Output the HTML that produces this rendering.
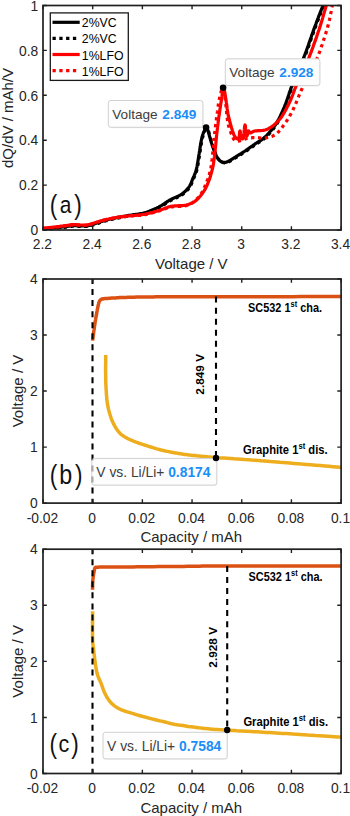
<!DOCTYPE html>
<html><head><meta charset="utf-8"><style>
html,body{margin:0;padding:0;background:#fff;}
svg{display:block;}
text{font-family:"Liberation Sans",sans-serif;}
.tk{font-size:13.8px;fill:#262626;}
.lb{font-size:15px;fill:#262626;}
.bd{font-size:12px;font-weight:bold;fill:#000;}
.cal{fill:#111;}
</style></head><body>
<svg width="350" height="816" viewBox="0 0 350 816">
<rect width="350" height="816" fill="#fff"/>
<clipPath id="ca"><rect x="43.0" y="5.5" width="298.1" height="226.5"/></clipPath>
<g clip-path="url(#ca)" fill="none" stroke-linejoin="round" stroke-linecap="butt">
<path d="M42.5,229.0 L43.1,228.9 L43.9,228.9 L44.9,228.8 L45.9,228.7 L47.1,228.6 L48.3,228.5 L49.6,228.4 L50.8,228.2 L52.1,228.1 L53.3,228.0 L54.4,227.9 L55.4,227.8 L56.4,227.7 L57.3,227.6 L58.2,227.5 L59.1,227.4 L60.0,227.3 L60.9,227.2 L61.7,227.1 L62.6,227.0 L63.4,226.9 L64.2,226.8 L64.9,226.7 L65.7,226.6 L66.4,226.5 L67.1,226.4 L67.8,226.3 L68.5,226.2 L69.1,226.1 L69.7,226.0 L70.3,225.9 L70.9,225.8 L71.5,225.7 L72.1,225.7 L72.8,225.6 L73.4,225.6 L74.0,225.6 L74.7,225.6 L75.4,225.6 L76.0,225.7 L76.7,225.7 L77.3,225.8 L78.0,225.8 L78.6,225.9 L79.3,225.9 L79.9,226.0 L80.5,226.0 L81.1,226.0 L81.7,226.0 L82.3,226.0 L82.8,226.0 L83.4,226.0 L83.9,226.0 L84.4,226.0 L85.0,226.0 L85.5,226.0 L86.0,226.0 L86.5,225.9 L87.1,225.9 L87.6,225.8 L88.1,225.7 L88.6,225.6 L89.1,225.5 L89.6,225.4 L90.1,225.2 L90.6,225.1 L91.1,224.9 L91.6,224.8 L92.1,224.6 L92.7,224.4 L93.3,224.2 L94.0,224.0 L94.7,223.8 L95.5,223.5 L96.2,223.3 L97.1,223.0 L97.9,222.7 L98.8,222.4 L99.6,222.1 L100.5,221.8 L101.5,221.5 L102.4,221.2 L103.3,220.9 L104.3,220.6 L105.3,220.3 L106.3,220.1 L107.3,219.8 L108.4,219.5 L109.5,219.3 L110.5,219.0 L111.6,218.8 L112.7,218.5 L113.8,218.3 L114.9,218.1 L116.0,217.8 L117.1,217.6 L118.2,217.4 L119.2,217.2 L120.3,217.0 L121.3,216.8 L122.4,216.6 L123.5,216.4 L124.5,216.2 L125.6,216.0 L126.7,215.8 L127.8,215.6 L128.9,215.4 L130.0,215.2 L131.1,215.0 L132.3,214.9 L133.5,214.7 L134.7,214.6 L135.9,214.4 L137.1,214.3 L138.3,214.1 L139.5,213.9 L140.7,213.7 L141.9,213.5 L143.1,213.2 L144.3,212.9 L145.5,212.5 L146.7,212.2 L147.9,211.7 L149.2,211.3 L150.4,210.8 L151.6,210.3 L152.8,209.8 L154.0,209.3 L155.2,208.7 L156.4,208.2 L157.5,207.6 L158.6,207.1 L159.7,206.5 L160.7,206.0 L161.7,205.4 L162.6,204.8 L163.6,204.2 L164.5,203.5 L165.4,202.9 L166.3,202.3 L167.2,201.7 L168.1,201.1 L169.1,200.5 L170.0,200.0 L171.0,199.5 L171.9,199.0 L172.9,198.5 L173.9,198.1 L174.9,197.6 L175.9,197.2 L176.9,196.7 L177.9,196.3 L178.8,195.8 L179.7,195.3 L180.6,194.8 L181.4,194.3 L182.2,193.8 L182.9,193.2 L183.6,192.6 L184.3,192.1 L185.0,191.5 L185.6,190.9 L186.2,190.3 L186.8,189.7 L187.3,189.1 L187.9,188.4 L188.4,187.8 L188.9,187.1 L189.4,186.4 L189.8,185.7 L190.2,184.9 L190.6,184.2 L190.9,183.4 L191.3,182.6 L191.6,181.8 L191.9,181.0 L192.2,180.2 L192.5,179.5 L192.8,178.7 L193.1,178.0 L193.4,177.3 L193.7,176.7 L194.0,176.1 L194.2,175.5 L194.5,174.9 L194.8,174.3 L195.0,173.7 L195.3,173.0 L195.5,172.4 L195.7,171.7 L196.0,170.9 L196.2,170.0 L196.4,169.1 L196.6,168.1 L196.9,167.1 L197.1,166.0 L197.3,164.9 L197.5,163.8 L197.7,162.6 L197.9,161.4 L198.1,160.1 L198.3,158.9 L198.5,157.6 L198.7,156.3 L198.9,154.9 L199.2,153.5 L199.4,151.9 L199.7,150.3 L199.9,148.7 L200.2,147.1 L200.4,145.5 L200.7,143.9 L200.9,142.4 L201.2,141.0 L201.5,139.7 L201.7,138.5 L201.9,137.5 L202.2,136.5 L202.5,135.6 L202.7,134.8 L203.0,134.0 L203.2,133.3 L203.5,132.7 L203.7,132.1 L204.0,131.6 L204.2,131.1 L204.4,130.6 L204.6,130.2 L204.8,129.8 L205.0,129.5 L205.1,129.2 L205.3,129.0 L205.4,128.8 L205.6,128.7 L205.7,128.6 L205.9,128.5 L206.0,128.5 L206.1,128.5 L206.3,128.5 L206.4,128.5 L206.5,128.5 L206.7,128.6 L206.8,128.7 L206.9,128.8 L207.1,128.9 L207.2,129.1 L207.3,129.3 L207.5,129.5 L207.6,129.7 L207.7,130.0 L207.9,130.3 L208.0,130.6 L208.1,130.9 L208.3,131.3 L208.4,131.7 L208.5,132.1 L208.6,132.6 L208.7,133.1 L208.8,133.6 L209.0,134.1 L209.1,134.7 L209.3,135.2 L209.4,135.9 L209.6,136.5 L209.8,137.2 L210.0,137.9 L210.2,138.7 L210.5,139.5 L210.7,140.3 L211.0,141.2 L211.2,142.1 L211.5,143.0 L211.8,143.8 L212.0,144.7 L212.3,145.6 L212.6,146.4 L212.9,147.2 L213.2,148.1 L213.5,149.0 L213.8,149.9 L214.2,150.7 L214.5,151.6 L214.8,152.5 L215.2,153.3 L215.5,154.1 L215.8,154.9 L216.2,155.6 L216.5,156.2 L216.8,156.8 L217.1,157.3 L217.4,157.8 L217.7,158.3 L218.0,158.7 L218.4,159.1 L218.7,159.5 L219.0,159.8 L219.3,160.2 L219.6,160.5 L220.0,160.7 L220.3,161.0 L220.7,161.2 L221.0,161.5 L221.4,161.7 L221.8,161.8 L222.2,162.0 L222.6,162.1 L223.0,162.2 L223.4,162.3 L223.8,162.4 L224.2,162.4 L224.6,162.4 L225.0,162.4 L225.4,162.4 L225.8,162.3 L226.2,162.2 L226.6,162.1 L227.0,161.9 L227.4,161.8 L227.8,161.6 L228.2,161.4 L228.6,161.1 L229.0,160.9 L229.5,160.7 L230.0,160.4 L230.5,160.1 L231.0,159.8 L231.6,159.5 L232.1,159.1 L232.7,158.8 L233.3,158.4 L233.9,158.0 L234.5,157.6 L235.1,157.2 L235.8,156.8 L236.4,156.4 L237.0,156.0 L237.6,155.6 L238.3,155.2 L238.9,154.8 L239.5,154.5 L240.2,154.1 L240.8,153.7 L241.5,153.3 L242.1,152.8 L242.8,152.4 L243.5,152.0 L244.3,151.5 L245.0,151.0 L245.8,150.5 L246.6,149.9 L247.4,149.4 L248.2,148.8 L249.0,148.2 L249.9,147.6 L250.7,147.0 L251.6,146.4 L252.5,145.8 L253.3,145.2 L254.2,144.6 L255.0,144.0 L255.8,143.4 L256.7,142.9 L257.5,142.4 L258.3,141.9 L259.1,141.4 L260.0,140.9 L260.8,140.3 L261.6,139.8 L262.5,139.2 L263.3,138.5 L264.1,137.8 L265.0,137.0 L265.9,136.2 L266.8,135.3 L267.7,134.3 L268.6,133.4 L269.5,132.3 L270.4,131.3 L271.4,130.2 L272.3,129.1 L273.2,127.9 L274.0,126.7 L274.9,125.5 L275.7,124.3 L276.5,123.0 L277.3,121.7 L278.0,120.4 L278.8,119.0 L279.5,117.6 L280.2,116.2 L280.9,114.7 L281.6,113.2 L282.3,111.7 L283.0,110.2 L283.6,108.6 L284.3,107.1 L284.9,105.5 L285.6,103.9 L286.2,102.2 L286.8,100.5 L287.4,98.8 L288.0,97.0 L288.6,95.3 L289.1,93.6 L289.7,91.9 L290.3,90.2 L290.8,88.6 L291.4,87.1 L292.0,85.6 L292.5,84.2 L293.1,82.8 L293.6,81.4 L294.2,80.1 L294.7,78.8 L295.3,77.5 L295.8,76.2 L296.4,74.9 L296.9,73.6 L297.5,72.3 L298.0,71.0 L298.5,69.7 L299.0,68.5 L299.6,67.4 L300.0,66.3 L300.5,65.2 L301.0,64.1 L301.6,62.9 L302.1,61.7 L302.6,60.4 L303.2,59.0 L303.8,57.4 L304.5,55.7 L305.2,53.8 L306.0,51.7 L306.8,49.5 L307.6,47.2 L308.5,44.7 L309.3,42.2 L310.2,39.7 L311.1,37.2 L311.9,34.8 L312.8,32.4 L313.6,30.1 L314.4,27.9 L315.2,25.8 L316.0,23.7 L316.7,21.6 L317.5,19.6 L318.3,17.6 L319.0,15.6 L319.8,13.7 L320.5,11.9 L321.2,10.2 L321.8,8.5 L322.4,7.0 L322.9,5.6 L323.4,4.3 L323.8,3.2 L324.2,2.1 L324.6,1.1 L324.9,0.2 L325.2,-0.6 L325.5,-1.3 L325.7,-2.0 L326.0,-2.6 L326.2,-3.1 L326.3,-3.6 L326.5,-4.0" stroke="#000" stroke-width="3.2"/>
<path d="M43.1,229.6 L43.7,229.5 L44.5,229.5 L45.5,229.4 L46.5,229.3 L47.7,229.2 L48.9,229.1 L50.2,229.0 L51.4,228.8 L52.7,228.7 L53.9,228.6 L55.0,228.5 L56.0,228.4 L57.0,228.3 L57.9,228.2 L58.8,228.1 L59.7,228.0 L60.6,227.9 L61.5,227.8 L62.3,227.7 L63.2,227.6 L64.0,227.5 L64.8,227.4 L65.5,227.3 L66.3,227.2 L67.0,227.1 L67.7,227.0 L68.4,226.9 L69.1,226.8 L69.7,226.7 L70.3,226.6 L70.9,226.5 L71.5,226.4 L72.1,226.3 L72.7,226.3 L73.4,226.2 L74.0,226.2 L74.6,226.2 L75.3,226.2 L76.0,226.2 L76.6,226.3 L77.3,226.3 L77.9,226.3 L78.6,226.4 L79.2,226.5 L79.9,226.5 L80.5,226.6 L81.1,226.6 L81.7,226.6 L82.3,226.6 L82.9,226.6 L83.4,226.6 L84.0,226.6 L84.5,226.6 L85.0,226.6 L85.6,226.6 L86.1,226.6 L86.6,226.6 L87.1,226.5 L87.7,226.5 L88.2,226.4 L88.7,226.3 L89.2,226.2 L89.7,226.1 L90.2,226.0 L90.7,225.8 L91.2,225.7 L91.7,225.5 L92.2,225.4 L92.7,225.2 L93.3,225.0 L93.9,224.8 L94.6,224.6 L95.3,224.4 L96.1,224.1 L96.8,223.9 L97.7,223.6 L98.5,223.3 L99.3,223.0 L100.2,222.7 L101.1,222.4 L102.1,222.1 L103.0,221.8 L103.9,221.5 L104.9,221.2 L105.9,220.9 L106.9,220.7 L107.9,220.4 L109.0,220.1 L110.1,219.9 L111.1,219.6 L112.2,219.4 L113.3,219.1 L114.4,218.9 L115.5,218.7 L116.6,218.4 L117.7,218.2 L118.8,218.0 L119.8,217.8 L120.9,217.6 L121.9,217.4 L123.0,217.2 L124.1,217.0 L125.1,216.8 L126.2,216.6 L127.3,216.4 L128.4,216.2 L129.5,216.0 L130.6,215.8 L131.7,215.6 L132.9,215.5 L134.1,215.3 L135.3,215.2 L136.5,215.0 L137.7,214.9 L138.9,214.7 L140.1,214.5 L141.3,214.3 L142.5,214.1 L143.7,213.8 L144.9,213.5 L146.1,213.1 L147.3,212.8 L148.5,212.3 L149.8,211.9 L151.0,211.4 L152.2,210.9 L153.4,210.4 L154.6,209.9 L155.8,209.3 L157.0,208.8 L158.1,208.2 L159.2,207.7 L160.3,207.1 L161.3,206.6 L162.3,206.0 L163.2,205.4 L164.2,204.8 L165.1,204.1 L166.0,203.5 L166.9,202.9 L167.8,202.3 L168.7,201.7 L169.7,201.1 L170.6,200.6 L171.6,200.1 L172.5,199.6 L173.5,199.1 L174.5,198.7 L175.5,198.2 L176.5,197.8 L177.5,197.3 L178.5,196.9 L179.4,196.4 L180.3,195.9 L181.2,195.4 L182.0,194.9 L182.8,194.4 L183.5,193.8 L184.2,193.2 L184.9,192.7 L185.6,192.1 L186.2,191.5 L186.8,190.9 L187.4,190.3 L187.9,189.7 L188.5,189.0 L189.0,188.4 L189.5,187.7 L190.0,187.0 L190.4,186.3 L190.8,185.5 L191.2,184.8 L191.5,184.0 L191.9,183.2 L192.2,182.4 L192.5,181.6 L192.8,180.8 L193.1,180.1 L193.4,179.3 L193.7,178.6 L194.0,177.9 L194.3,177.3 L194.6,176.7 L194.8,176.1 L195.1,175.5 L195.4,174.9 L195.6,174.3 L195.9,173.6 L196.1,173.0 L196.3,172.3 L196.6,171.5 L196.8,170.6 L197.0,169.7 L197.2,168.7 L197.5,167.7 L197.7,166.6 L197.9,165.5 L198.1,164.4 L198.3,163.2 L198.5,162.0 L198.7,160.7 L198.9,159.5 L199.1,158.2 L199.3,156.9 L199.5,155.5 L199.8,154.1 L200.0,152.5 L200.3,150.9 L200.5,149.3 L200.8,147.7 L201.0,146.1 L201.3,144.5 L201.5,143.0 L201.8,141.6 L202.1,140.3 L202.3,139.1 L202.5,138.1 L202.8,137.1 L203.1,136.2 L203.3,135.4 L203.6,134.6 L203.8,133.9 L204.1,133.3 L204.3,132.7 L204.6,132.2 L204.8,131.7 L205.0,131.2 L205.2,130.8 L205.4,130.4 L205.6,130.1 L205.7,129.8 L205.9,129.6 L206.0,129.4 L206.2,129.3 L206.3,129.2 L206.5,129.1 L206.6,129.1 L206.7,129.1 L206.9,129.1 L207.0,129.1 L207.1,129.1 L207.3,129.2 L207.4,129.3 L207.5,129.4 L207.7,129.5 L207.8,129.7 L207.9,129.9 L208.1,130.1 L208.2,130.3 L208.3,130.6 L208.5,130.9 L208.6,131.2 L208.7,131.5 L208.9,131.9 L209.0,132.3 L209.1,132.7 L209.2,133.2 L209.3,133.7 L209.4,134.2 L209.6,134.7 L209.7,135.3 L209.9,135.8 L210.0,136.5 L210.2,137.1 L210.4,137.8 L210.6,138.5 L210.8,139.3 L211.1,140.1 L211.3,140.9 L211.6,141.8 L211.8,142.7 L212.1,143.6 L212.4,144.4 L212.6,145.3 L212.9,146.2 L213.2,147.0 L213.5,147.8 L213.8,148.7 L214.1,149.6 L214.4,150.5 L214.8,151.3 L215.1,152.2 L215.4,153.1 L215.8,153.9 L216.1,154.7 L216.4,155.5 L216.8,156.2 L217.1,156.8 L217.4,157.4 L217.7,157.9 L218.0,158.4 L218.3,158.9 L218.6,159.3 L219.0,159.7 L219.3,160.1 L219.6,160.4 L219.9,160.8 L220.2,161.1 L220.6,161.3 L220.9,161.6 L221.3,161.8 L221.6,162.1 L222.0,162.3 L222.4,162.4 L222.8,162.6 L223.2,162.7 L223.6,162.8 L224.0,162.9 L224.4,163.0 L224.8,163.0 L225.2,163.0 L225.6,163.0 L226.0,163.0 L226.4,162.9 L226.8,162.8 L227.2,162.7 L227.6,162.5 L228.0,162.4 L228.4,162.2 L228.8,162.0 L229.2,161.7 L229.6,161.5 L230.1,161.3 L230.6,161.0 L231.1,160.7 L231.6,160.4 L232.2,160.1 L232.7,159.7 L233.3,159.4 L233.9,159.0 L234.5,158.6 L235.1,158.2 L235.7,157.8 L236.4,157.4 L237.0,157.0 L237.6,156.6 L238.2,156.2 L238.9,155.8 L239.5,155.4 L240.1,155.1 L240.8,154.7 L241.4,154.3 L242.1,153.9 L242.7,153.4 L243.4,153.0 L244.1,152.6 L244.9,152.1 L245.6,151.6 L246.4,151.1 L247.2,150.5 L248.0,150.0 L248.8,149.4 L249.6,148.8 L250.5,148.2 L251.3,147.6 L252.2,147.0 L253.1,146.4 L253.9,145.8 L254.8,145.2 L255.6,144.6 L256.4,144.0 L257.3,143.5 L258.1,143.0 L258.9,142.5 L259.7,142.0 L260.6,141.5 L261.4,140.9 L262.2,140.4 L263.1,139.8 L263.9,139.1 L264.7,138.4 L265.6,137.6 L266.5,136.8 L267.4,135.9 L268.3,134.9 L269.2,134.0 L270.1,132.9 L271.0,131.9 L272.0,130.8 L272.9,129.7 L273.8,128.5 L274.6,127.3 L275.5,126.1 L276.3,124.9 L277.1,123.6 L277.9,122.3 L278.6,121.0 L279.4,119.6 L280.1,118.2 L280.8,116.8 L281.5,115.3 L282.2,113.8 L282.9,112.3 L283.6,110.8 L284.2,109.2 L284.9,107.7 L285.5,106.1 L286.2,104.5 L286.8,102.8 L287.4,101.1 L288.0,99.4 L288.6,97.6 L289.2,95.9 L289.7,94.2 L290.3,92.5 L290.9,90.8 L291.4,89.2 L292.0,87.7 L292.6,86.2 L293.1,84.8 L293.7,83.4 L294.2,82.0 L294.8,80.7 L295.3,79.4 L295.9,78.1 L296.4,76.8 L297.0,75.5 L297.5,74.2 L298.1,72.9 L298.6,71.6 L299.1,70.3 L299.6,69.1 L300.2,68.0 L300.6,66.9 L301.1,65.8 L301.6,64.7 L302.2,63.5 L302.7,62.3 L303.2,61.0 L303.8,59.6 L304.4,58.0 L305.1,56.3 L305.8,54.4 L306.6,52.3 L307.4,50.1 L308.2,47.8 L309.1,45.3 L309.9,42.8 L310.8,40.3 L311.7,37.8 L312.5,35.4 L313.4,33.0 L314.2,30.7 L315.0,28.5 L315.8,26.4 L316.6,24.3 L317.3,22.2 L318.1,20.2 L318.9,18.2 L319.6,16.2 L320.4,14.3 L321.1,12.5 L321.8,10.8 L322.4,9.1 L323.0,7.6 L323.5,6.2 L324.0,4.9 L324.4,3.8 L324.8,2.7 L325.2,1.7 L325.5,0.8 L325.8,0.0 L326.1,-0.7 L326.3,-1.4 L326.6,-2.0 L326.8,-2.5 L326.9,-3.0 L327.1,-3.4" stroke="#000" stroke-width="3" stroke-dasharray="3.3 3.6"/>
<path d="M42.5,228.2 L43.1,228.1 L43.9,228.1 L44.9,228.0 L45.9,227.9 L47.1,227.8 L48.3,227.6 L49.6,227.5 L50.8,227.4 L52.1,227.3 L53.3,227.1 L54.4,227.0 L55.4,226.9 L56.4,226.8 L57.3,226.7 L58.2,226.6 L59.1,226.5 L60.0,226.3 L60.9,226.2 L61.7,226.1 L62.6,226.0 L63.4,225.9 L64.2,225.8 L64.9,225.7 L65.7,225.6 L66.4,225.5 L67.1,225.4 L67.8,225.3 L68.5,225.2 L69.1,225.1 L69.7,225.0 L70.3,224.9 L70.9,224.8 L71.5,224.7 L72.1,224.7 L72.8,224.6 L73.4,224.6 L74.0,224.6 L74.7,224.6 L75.4,224.6 L76.0,224.7 L76.7,224.7 L77.3,224.8 L78.0,224.8 L78.6,224.9 L79.3,224.9 L79.9,225.0 L80.5,225.0 L81.1,225.0 L81.7,225.0 L82.3,225.0 L82.8,225.0 L83.4,225.0 L83.9,225.0 L84.4,225.0 L85.0,225.0 L85.5,225.0 L86.0,225.0 L86.5,224.9 L87.1,224.9 L87.6,224.8 L88.1,224.7 L88.6,224.6 L89.1,224.5 L89.6,224.4 L90.1,224.2 L90.6,224.1 L91.1,223.9 L91.6,223.8 L92.1,223.6 L92.7,223.4 L93.3,223.2 L94.0,223.0 L94.7,222.8 L95.5,222.6 L96.2,222.3 L97.1,222.0 L97.9,221.8 L98.8,221.5 L99.6,221.2 L100.5,220.9 L101.5,220.7 L102.4,220.4 L103.3,220.1 L104.3,219.9 L105.3,219.7 L106.3,219.4 L107.3,219.2 L108.4,219.0 L109.5,218.7 L110.5,218.5 L111.6,218.3 L112.7,218.1 L113.8,217.9 L114.9,217.7 L116.0,217.5 L117.1,217.3 L118.2,217.1 L119.2,217.0 L120.3,216.8 L121.3,216.7 L122.4,216.6 L123.5,216.5 L124.5,216.4 L125.6,216.3 L126.7,216.1 L127.8,216.0 L128.9,215.9 L130.0,215.8 L131.1,215.7 L132.3,215.6 L133.5,215.5 L134.7,215.4 L135.9,215.3 L137.1,215.2 L138.3,215.1 L139.5,215.0 L140.7,214.8 L141.9,214.7 L143.1,214.5 L144.3,214.3 L145.5,214.1 L146.7,213.8 L147.9,213.5 L149.2,213.2 L150.4,212.9 L151.6,212.6 L152.8,212.3 L154.0,211.9 L155.2,211.6 L156.4,211.3 L157.5,210.9 L158.6,210.6 L159.7,210.3 L160.7,209.9 L161.7,209.5 L162.7,209.2 L163.7,208.8 L164.7,208.4 L165.6,208.1 L166.5,207.7 L167.4,207.4 L168.3,207.1 L169.2,206.8 L170.0,206.6 L170.8,206.4 L171.6,206.3 L172.3,206.2 L173.1,206.1 L173.8,206.0 L174.5,205.9 L175.2,205.9 L175.8,205.9 L176.5,205.8 L177.2,205.8 L177.9,205.8 L178.6,205.7 L179.3,205.6 L180.0,205.6 L180.7,205.6 L181.4,205.6 L182.1,205.6 L182.8,205.5 L183.5,205.5 L184.2,205.4 L184.9,205.4 L185.6,205.3 L186.4,205.1 L187.1,204.9 L187.8,204.7 L188.6,204.4 L189.4,204.1 L190.1,203.8 L190.9,203.5 L191.7,203.1 L192.5,202.7 L193.2,202.3 L194.0,201.9 L194.8,201.4 L195.5,200.9 L196.2,200.3 L196.9,199.7 L197.6,199.0 L198.3,198.3 L199.0,197.6 L199.7,196.8 L200.4,196.0 L201.0,195.2 L201.7,194.3 L202.3,193.5 L202.9,192.6 L203.5,191.8 L204.0,191.0 L204.5,190.2 L205.0,189.4 L205.5,188.5 L205.9,187.7 L206.3,186.8 L206.7,186.0 L207.1,185.1 L207.5,184.3 L207.8,183.4 L208.2,182.6 L208.5,181.8 L208.8,181.0 L209.1,180.2 L209.4,179.4 L209.7,178.7 L209.9,177.9 L210.2,177.1 L210.4,176.4 L210.6,175.6 L210.8,174.9 L211.0,174.2 L211.2,173.4 L211.4,172.7 L211.6,172.0 L211.8,171.3 L212.0,170.7 L212.1,170.1 L212.3,169.5 L212.4,168.9 L212.6,168.3 L212.7,167.7 L212.8,167.1 L213.0,166.4 L213.1,165.7 L213.3,164.9 L213.4,164.0 L213.6,163.1 L213.7,162.1 L213.8,161.0 L214.0,159.9 L214.2,158.8 L214.3,157.6 L214.5,156.4 L214.6,155.2 L214.8,153.9 L214.9,152.6 L215.1,151.3 L215.2,150.0 L215.3,148.6 L215.5,147.2 L215.6,145.7 L215.8,144.2 L215.9,142.7 L216.1,141.1 L216.2,139.6 L216.4,138.0 L216.5,136.5 L216.7,134.9 L216.8,133.4 L217.0,132.0 L217.2,130.6 L217.3,129.2 L217.5,127.9 L217.6,126.5 L217.8,125.2 L218.0,123.9 L218.1,122.6 L218.3,121.3 L218.5,120.0 L218.6,118.6 L218.8,117.3 L219.0,116.0 L219.2,114.7 L219.4,113.3 L219.6,111.9 L219.8,110.5 L220.0,109.1 L220.2,107.8 L220.4,106.4 L220.6,105.0 L220.8,103.7 L221.0,102.4 L221.2,101.2 L221.4,100.0 L221.6,98.8 L221.8,97.5 L222.0,96.2 L222.1,94.8 L222.3,93.5 L222.5,92.2 L222.7,91.1 L222.9,90.1 L223.0,89.2 L223.2,88.6 L223.4,88.1 L223.6,88.0 L223.8,88.2 L224.0,88.6 L224.2,89.3 L224.4,90.1 L224.6,91.2 L224.8,92.4 L225.0,93.6 L225.2,95.0 L225.4,96.3 L225.6,97.6 L225.8,98.9 L226.0,100.0 L226.2,101.1 L226.3,102.2 L226.5,103.4 L226.7,104.6 L226.8,105.8 L227.0,107.0 L227.1,108.2 L227.3,109.4 L227.4,110.6 L227.6,111.8 L227.8,112.9 L228.0,114.0 L228.2,115.1 L228.4,116.2 L228.7,117.2 L228.9,118.3 L229.2,119.3 L229.4,120.3 L229.7,121.3 L230.0,122.3 L230.2,123.3 L230.5,124.2 L230.7,125.1 L231.0,126.0 L231.3,126.9 L231.5,127.7 L231.8,128.6 L232.0,129.4 L232.3,130.2 L232.5,131.0 L232.8,131.8 L233.0,132.5 L233.3,133.2 L233.5,133.9 L233.8,134.5 L234.0,135.0 L234.2,135.5 L234.5,135.9 L234.7,136.3 L234.9,136.7 L235.1,137.0 L235.3,137.3 L235.6,137.5 L235.8,137.8 L236.0,137.9 L236.2,138.1 L236.4,138.3 L236.6,138.4 L236.8,138.5 L237.0,138.6 L237.2,138.7 L237.4,138.8 L237.6,138.8 L237.8,138.9 L238.0,138.8 L238.2,138.8 L238.3,138.7 L238.5,138.5 L238.7,138.3 L238.8,138.0 L238.9,137.6 L239.1,137.1 L239.2,136.4 L239.3,135.6 L239.4,134.8 L239.5,134.0 L239.5,133.3 L239.6,132.5 L239.7,131.9 L239.8,131.4 L239.9,131.1 L240.0,131.0 L240.1,131.1 L240.2,131.4 L240.3,131.9 L240.4,132.6 L240.5,133.3 L240.7,134.1 L240.8,134.9 L240.9,135.7 L241.0,136.4 L241.1,137.1 L241.3,137.6 L241.4,138.0 L241.5,138.3 L241.7,138.5 L241.9,138.7 L242.0,138.8 L242.2,138.9 L242.4,139.0 L242.6,138.9 L242.7,138.8 L242.9,138.6 L243.1,138.4 L243.2,138.0 L243.4,137.5 L243.5,136.8 L243.7,135.8 L243.8,134.7 L244.0,133.4 L244.1,132.0 L244.2,130.5 L244.4,129.2 L244.5,127.9 L244.6,126.8 L244.7,125.9 L244.9,125.3 L245.0,125.0 L245.1,125.1 L245.3,125.7 L245.4,126.5 L245.5,127.5 L245.6,128.7 L245.8,130.0 L245.9,131.4 L246.0,132.6 L246.2,133.8 L246.3,134.8 L246.5,135.6 L246.6,136.0 L246.8,136.1 L246.9,136.0 L247.1,135.7 L247.3,135.3 L247.4,134.7 L247.6,134.1 L247.8,133.4 L248.0,132.7 L248.1,132.1 L248.3,131.6 L248.5,131.2 L248.6,131.0 L248.7,130.9 L248.8,131.0 L248.9,131.1 L249.0,131.3 L249.0,131.5 L249.1,131.8 L249.2,132.1 L249.3,132.4 L249.4,132.6 L249.6,132.8 L249.8,133.0 L250.0,133.0 L250.3,133.0 L250.6,132.9 L250.9,132.8 L251.2,132.6 L251.6,132.4 L252.0,132.2 L252.4,132.0 L252.8,131.7 L253.3,131.5 L253.8,131.3 L254.4,131.1 L255.0,131.0 L255.7,130.9 L256.4,130.8 L257.2,130.8 L258.0,130.7 L258.9,130.7 L259.8,130.6 L260.7,130.6 L261.6,130.5 L262.5,130.5 L263.4,130.3 L264.2,130.2 L265.0,130.0 L265.7,129.8 L266.4,129.5 L267.1,129.3 L267.8,129.0 L268.4,128.7 L269.0,128.3 L269.7,128.0 L270.3,127.6 L270.9,127.2 L271.6,126.7 L272.2,126.2 L272.9,125.7 L273.6,125.2 L274.3,124.6 L275.0,124.0 L275.7,123.4 L276.4,122.8 L277.1,122.1 L277.8,121.4 L278.5,120.7 L279.3,119.8 L280.0,119.0 L280.7,118.1 L281.4,117.1 L282.1,116.0 L282.9,114.9 L283.6,113.6 L284.4,112.3 L285.1,111.0 L285.9,109.6 L286.6,108.2 L287.3,106.8 L288.1,105.4 L288.7,104.0 L289.4,102.7 L290.0,101.4 L290.6,100.2 L291.1,98.9 L291.6,97.7 L292.1,96.5 L292.6,95.3 L293.0,94.1 L293.4,92.9 L293.9,91.7 L294.3,90.5 L294.7,89.4 L295.2,88.2 L295.7,87.0 L296.2,85.8 L296.7,84.7 L297.2,83.5 L297.7,82.4 L298.2,81.3 L298.7,80.2 L299.2,79.0 L299.8,77.9 L300.3,76.7 L300.9,75.5 L301.4,74.3 L302.0,73.0 L302.6,71.7 L303.2,70.4 L303.8,69.2 L304.4,67.9 L305.0,66.6 L305.6,65.2 L306.3,63.8 L306.9,62.4 L307.6,60.8 L308.3,59.2 L309.0,57.5 L309.7,55.7 L310.5,53.7 L311.3,51.6 L312.1,49.4 L313.0,47.0 L313.8,44.6 L314.7,42.1 L315.6,39.6 L316.5,37.1 L317.3,34.7 L318.1,32.3 L318.9,30.1 L319.6,27.9 L320.3,25.8 L320.9,23.7 L321.6,21.6 L322.2,19.6 L322.8,17.6 L323.3,15.6 L323.9,13.7 L324.4,11.9 L324.9,10.2 L325.4,8.5 L325.8,7.0 L326.2,5.6 L326.6,4.3 L326.9,3.2 L327.2,2.1 L327.5,1.1 L327.8,0.2 L328.0,-0.6 L328.2,-1.3 L328.4,-2.0 L328.6,-2.6 L328.7,-3.1 L328.9,-3.6 L329.0,-4.0" stroke="#ff0000" stroke-width="3.2"/>
<path d="M42.5,228.5 L43.1,228.4 L43.9,228.4 L44.9,228.3 L45.9,228.2 L47.1,228.1 L48.3,227.9 L49.6,227.8 L50.8,227.7 L52.1,227.6 L53.3,227.4 L54.4,227.3 L55.4,227.2 L56.4,227.1 L57.3,227.0 L58.2,226.9 L59.1,226.8 L60.0,226.6 L60.9,226.5 L61.7,226.4 L62.6,226.3 L63.4,226.2 L64.2,226.1 L64.9,226.0 L65.7,225.9 L66.4,225.8 L67.1,225.7 L67.8,225.6 L68.5,225.5 L69.1,225.4 L69.7,225.3 L70.3,225.2 L70.9,225.1 L71.5,225.0 L72.1,225.0 L72.8,224.9 L73.4,224.9 L74.0,224.9 L74.7,224.9 L75.4,224.9 L76.0,225.0 L76.7,225.0 L77.3,225.1 L78.0,225.1 L78.6,225.2 L79.3,225.2 L79.9,225.3 L80.5,225.3 L81.1,225.3 L81.7,225.3 L82.3,225.3 L82.8,225.3 L83.4,225.3 L83.9,225.3 L84.4,225.3 L85.0,225.3 L85.5,225.3 L86.0,225.3 L86.5,225.2 L87.1,225.2 L87.6,225.1 L88.1,225.0 L88.6,224.9 L89.1,224.8 L89.6,224.7 L90.1,224.5 L90.6,224.4 L91.1,224.2 L91.6,224.1 L92.1,223.9 L92.7,223.7 L93.3,223.5 L94.0,223.3 L94.7,223.1 L95.5,222.9 L96.2,222.6 L97.1,222.3 L97.9,222.1 L98.8,221.8 L99.6,221.5 L100.5,221.2 L101.5,221.0 L102.4,220.7 L103.3,220.4 L104.3,220.2 L105.3,220.0 L106.3,219.7 L107.3,219.5 L108.4,219.3 L109.5,219.0 L110.5,218.8 L111.6,218.6 L112.7,218.4 L113.8,218.2 L114.9,218.0 L116.0,217.8 L117.1,217.6 L118.2,217.4 L119.2,217.3 L120.3,217.1 L121.3,217.0 L122.4,216.9 L123.5,216.8 L124.5,216.7 L125.6,216.5 L126.7,216.4 L127.8,216.3 L128.9,216.2 L130.0,216.1 L131.1,216.0 L132.3,215.9 L133.5,215.8 L134.7,215.7 L135.9,215.7 L137.1,215.6 L138.3,215.5 L139.5,215.4 L140.7,215.3 L141.9,215.2 L143.1,215.0 L144.3,214.8 L145.5,214.6 L146.7,214.3 L147.9,214.0 L149.2,213.7 L150.4,213.4 L151.6,213.1 L152.8,212.7 L154.0,212.4 L155.2,212.0 L156.4,211.7 L157.5,211.3 L158.6,211.0 L159.7,210.7 L160.7,210.3 L161.7,210.0 L162.7,209.6 L163.7,209.3 L164.7,208.9 L165.6,208.6 L166.5,208.2 L167.4,207.9 L168.3,207.7 L169.2,207.4 L170.0,207.2 L170.8,207.0 L171.6,206.9 L172.4,206.8 L173.1,206.7 L173.8,206.7 L174.5,206.6 L175.2,206.6 L175.9,206.6 L176.6,206.5 L177.3,206.5 L177.9,206.5 L178.6,206.4 L179.3,206.3 L179.9,206.3 L180.5,206.3 L181.1,206.3 L181.7,206.2 L182.3,206.2 L182.9,206.2 L183.5,206.1 L184.1,206.0 L184.7,205.9 L185.3,205.8 L186.0,205.6 L186.7,205.4 L187.4,205.1 L188.1,204.9 L188.8,204.6 L189.5,204.3 L190.2,204.0 L191.0,203.6 L191.7,203.2 L192.4,202.8 L193.1,202.3 L193.8,201.8 L194.5,201.3 L195.2,200.7 L195.9,200.1 L196.5,199.4 L197.2,198.6 L197.9,197.9 L198.6,197.1 L199.2,196.2 L199.9,195.4 L200.5,194.6 L201.1,193.7 L201.7,192.9 L202.2,192.0 L202.7,191.1 L203.2,190.2 L203.7,189.2 L204.1,188.2 L204.5,187.2 L205.0,186.2 L205.3,185.2 L205.7,184.3 L206.1,183.4 L206.4,182.5 L206.7,181.7 L207.0,181.0 L207.3,180.4 L207.5,179.9 L207.7,179.4 L207.9,179.1 L208.0,178.7 L208.2,178.4 L208.3,178.1 L208.4,177.8 L208.6,177.5 L208.7,177.1 L208.8,176.6 L209.0,176.0 L209.2,175.4 L209.4,174.7 L209.5,174.0 L209.7,173.3 L209.9,172.5 L210.1,171.7 L210.3,170.8 L210.5,170.0 L210.7,169.0 L210.9,168.1 L211.0,167.1 L211.2,166.0 L211.4,164.9 L211.5,163.7 L211.7,162.5 L211.8,161.2 L212.0,159.9 L212.1,158.5 L212.3,157.1 L212.4,155.7 L212.6,154.3 L212.7,152.9 L212.9,151.4 L213.0,150.0 L213.1,148.6 L213.3,147.1 L213.4,145.6 L213.6,144.1 L213.7,142.5 L213.9,141.0 L214.0,139.5 L214.2,137.9 L214.3,136.4 L214.5,134.9 L214.6,133.4 L214.8,132.0 L215.0,130.6 L215.1,129.2 L215.3,127.9 L215.4,126.5 L215.6,125.2 L215.8,123.9 L215.9,122.6 L216.1,121.3 L216.3,120.0 L216.4,118.6 L216.6,117.3 L216.8,116.0 L217.0,114.7 L217.2,113.3 L217.4,111.9 L217.5,110.5 L217.7,109.1 L217.9,107.7 L218.1,106.3 L218.3,105.0 L218.5,103.6 L218.8,102.4 L219.0,101.2 L219.2,100.0 L219.4,98.9 L219.7,97.7 L219.9,96.5 L220.2,95.3 L220.4,94.2 L220.7,93.1 L220.9,92.1 L221.2,91.1 L221.5,90.4 L221.7,89.7 L222.0,89.3 L222.2,89.0 L222.4,88.9 L222.7,88.9 L222.9,89.0 L223.1,89.3 L223.3,89.7 L223.5,90.2 L223.7,90.8 L223.9,91.6 L224.1,92.5 L224.3,93.5 L224.6,94.7 L224.8,96.0 L225.0,97.5 L225.3,99.4 L225.5,101.5 L225.7,103.7 L226.0,106.1 L226.2,108.6 L226.5,111.1 L226.7,113.6 L227.0,116.0 L227.2,118.2 L227.5,120.2 L227.8,122.0 L228.1,123.6 L228.4,125.0 L228.7,126.3 L229.1,127.6 L229.4,128.7 L229.8,129.8 L230.1,130.7 L230.5,131.7 L230.8,132.5 L231.1,133.4 L231.5,134.2 L231.8,135.0 L232.1,135.8 L232.4,136.5 L232.7,137.1 L233.0,137.8 L233.3,138.3 L233.6,138.8 L233.8,139.3 L234.1,139.7 L234.5,140.1 L234.8,140.5 L235.1,140.7 L235.5,141.0 L235.9,141.2 L236.3,141.3 L236.7,141.4 L237.2,141.4 L237.6,141.3 L238.1,141.2 L238.6,141.1 L239.1,141.0 L239.5,140.9 L240.0,140.7 L240.5,140.6 L241.0,140.5 L241.5,140.4 L241.9,140.2 L242.4,140.1 L242.9,139.9 L243.4,139.7 L243.8,139.5 L244.3,139.3 L244.8,139.1 L245.3,139.0 L245.9,138.8 L246.4,138.6 L247.0,138.5 L247.6,138.4 L248.2,138.3 L248.8,138.1 L249.4,138.0 L250.1,137.9 L250.8,137.8 L251.4,137.8 L252.1,137.7 L252.8,137.6 L253.5,137.6 L254.3,137.5 L255.0,137.5 L255.8,137.5 L256.5,137.5 L257.3,137.6 L258.2,137.7 L259.0,137.8 L259.8,137.9 L260.7,138.0 L261.5,138.1 L262.4,138.1 L263.3,138.1 L264.1,138.1 L265.0,138.0 L265.9,137.9 L266.8,137.7 L267.7,137.5 L268.6,137.3 L269.5,137.1 L270.4,136.8 L271.4,136.5 L272.3,136.2 L273.2,135.8 L274.0,135.3 L274.9,134.8 L275.7,134.3 L276.5,133.7 L277.3,133.0 L278.0,132.3 L278.7,131.6 L279.4,130.8 L280.1,130.0 L280.8,129.1 L281.5,128.2 L282.2,127.3 L282.9,126.3 L283.6,125.3 L284.3,124.3 L285.0,123.3 L285.7,122.2 L286.5,121.2 L287.2,120.1 L287.9,118.9 L288.6,117.8 L289.3,116.6 L290.0,115.3 L290.8,114.1 L291.5,112.8 L292.2,111.4 L292.9,110.0 L293.6,108.5 L294.3,107.0 L295.1,105.3 L295.8,103.6 L296.5,101.9 L297.2,100.1 L297.9,98.3 L298.6,96.6 L299.3,94.9 L300.0,93.2 L300.7,91.5 L301.4,90.0 L302.1,88.5 L302.7,87.1 L303.3,85.8 L303.9,84.5 L304.6,83.2 L305.2,81.9 L305.8,80.6 L306.4,79.4 L307.0,78.1 L307.7,76.8 L308.3,75.4 L309.0,74.0 L309.7,72.6 L310.4,71.2 L311.2,69.8 L311.9,68.4 L312.7,67.0 L313.4,65.6 L314.2,64.1 L315.0,62.6 L315.8,61.0 L316.6,59.3 L317.3,57.6 L318.1,55.7 L318.9,53.7 L319.7,51.6 L320.5,49.3 L321.3,46.9 L322.2,44.5 L323.0,42.1 L323.8,39.6 L324.6,37.1 L325.4,34.7 L326.1,32.3 L326.8,30.1 L327.4,27.9 L328.0,25.8 L328.5,23.7 L329.0,21.6 L329.5,19.6 L329.9,17.6 L330.3,15.6 L330.7,13.7 L331.1,11.9 L331.4,10.2 L331.7,8.5 L332.0,7.0 L332.3,5.6 L332.6,4.3 L332.8,3.2 L333.0,2.1 L333.2,1.1 L333.3,0.2 L333.5,-0.6 L333.6,-1.3 L333.7,-2.0 L333.8,-2.6 L333.9,-3.1 L333.9,-3.6 L334.0,-4.0" stroke="#ff0000" stroke-width="3.2" stroke-dasharray="3.3 3.6"/>
</g>
<rect x="43.0" y="5.5" width="298.1" height="224.5" fill="none" stroke="#202020" stroke-width="1.7"/>
<path d="M43.0,230 v-3.8 M43.0,5.5 v3.8" stroke="#202020" stroke-width="1.4"/>
<path d="M92.68333333333334,230 v-3.8 M92.68333333333334,5.5 v3.8" stroke="#202020" stroke-width="1.4"/>
<path d="M142.36666666666667,230 v-3.8 M142.36666666666667,5.5 v3.8" stroke="#202020" stroke-width="1.4"/>
<path d="M192.05,230 v-3.8 M192.05,5.5 v3.8" stroke="#202020" stroke-width="1.4"/>
<path d="M241.73333333333335,230 v-3.8 M241.73333333333335,5.5 v3.8" stroke="#202020" stroke-width="1.4"/>
<path d="M291.41666666666663,230 v-3.8 M291.41666666666663,5.5 v3.8" stroke="#202020" stroke-width="1.4"/>
<path d="M341.1,230 v-3.8 M341.1,5.5 v3.8" stroke="#202020" stroke-width="1.4"/>
<path d="M43.0,230.0 h3.8 M341.1,230.0 h-3.8" stroke="#202020" stroke-width="1.4"/>
<path d="M43.0,185.1 h3.8 M341.1,185.1 h-3.8" stroke="#202020" stroke-width="1.4"/>
<path d="M43.0,140.2 h3.8 M341.1,140.2 h-3.8" stroke="#202020" stroke-width="1.4"/>
<path d="M43.0,95.30000000000001 h3.8 M341.1,95.30000000000001 h-3.8" stroke="#202020" stroke-width="1.4"/>
<path d="M43.0,50.400000000000006 h3.8 M341.1,50.400000000000006 h-3.8" stroke="#202020" stroke-width="1.4"/>
<path d="M43.0,5.5 h3.8 M341.1,5.5 h-3.8" stroke="#202020" stroke-width="1.4"/>
<text x="42.4" y="249.4" text-anchor="middle" class="tk">2.2</text>
<text x="92.08333333333334" y="249.4" text-anchor="middle" class="tk">2.4</text>
<text x="141.76666666666668" y="249.4" text-anchor="middle" class="tk">2.6</text>
<text x="191.45000000000002" y="249.4" text-anchor="middle" class="tk">2.8</text>
<text x="241.13333333333335" y="249.4" text-anchor="middle" class="tk">3</text>
<text x="290.8166666666666" y="249.4" text-anchor="middle" class="tk">3.2</text>
<text x="340.5" y="249.4" text-anchor="middle" class="tk">3.4</text>
<text x="38.2" y="235.2" text-anchor="end" class="tk">0</text>
<text x="38.2" y="190.29999999999998" text-anchor="end" class="tk">0.2</text>
<text x="38.2" y="145.39999999999998" text-anchor="end" class="tk">0.4</text>
<text x="38.2" y="100.50000000000001" text-anchor="end" class="tk">0.6</text>
<text x="38.2" y="55.60000000000001" text-anchor="end" class="tk">0.8</text>
<text x="38.2" y="10.7" text-anchor="end" class="tk">1</text>
<text x="191.3" y="269.3" text-anchor="middle" class="lb">Voltage / V</text>
<text transform="translate(13.3,118) rotate(-90)" text-anchor="middle" class="lb">dQ/dV / mAh/V</text>
<rect x="50.3" y="12.9" width="78" height="67.5" fill="#fff" stroke="#1a1a1a" stroke-width="1.3"/>
<path d="M52.5,22.3 H79.7" stroke="#000" stroke-width="3.2"/>
<text x="81.8" y="27.3" style="font-size:12.3px" fill="#000">2%VC</text>
<path d="M52.5,38.400000000000006 H79.7" stroke="#000" stroke-width="3.2" stroke-dasharray="3.3 3.5"/>
<text x="81.8" y="43.400000000000006" style="font-size:12.3px" fill="#000">2%VC</text>
<path d="M52.5,54.5 H79.7" stroke="#ff0000" stroke-width="3.2"/>
<text x="81.8" y="59.5" style="font-size:12.3px" fill="#000">1%LFO</text>
<path d="M52.5,70.60000000000001 H79.7" stroke="#ff0000" stroke-width="3.2" stroke-dasharray="3.3 3.5"/>
<text x="81.8" y="75.60000000000001" style="font-size:12.3px" fill="#000">1%LFO</text>
<text transform="translate(49.87,213.70000000000002) scale(0.96,1.145)" class="cal" style="font-size:23.5px">(</text><text transform="translate(59.82,212.9) scale(0.89,1.0)" class="cal" style="font-size:23.5px">a</text><text transform="translate(74.20,213.70000000000002) scale(0.96,1.145)" class="cal" style="font-size:23.5px">)</text>
<rect x="225.70000000000002" y="59.699999999999996" width="94.6" height="26.8" rx="2.5" fill="#000" opacity="0.05"/>
<rect x="225.3" y="58.8" width="94.6" height="26.8" rx="2.5" fill="#fdfdfd" stroke="#d0d0d0" stroke-width="1"/>
<text x="229.3" y="77.10000000000001" style="font-size:13.6px" fill="#3c3c3c">Voltage <tspan dx="0.9" font-weight="bold" fill="#1a8ef8">2.928</tspan></text>
<rect x="108.7" y="101.4" width="94.6" height="26.8" rx="2.5" fill="#000" opacity="0.05"/>
<rect x="108.3" y="100.5" width="94.6" height="26.8" rx="2.5" fill="#fdfdfd" stroke="#d0d0d0" stroke-width="1"/>
<text x="112.3" y="118.80000000000001" style="font-size:13.6px" fill="#3c3c3c">Voltage <tspan dx="0.9" font-weight="bold" fill="#1a8ef8">2.849</tspan></text>
<circle cx="223.1" cy="87.8" r="3.3" fill="#000"/>
<circle cx="206.1" cy="127.5" r="3.3" fill="#000"/>
<clipPath id="c279"><rect x="43.0" y="279.0" width="298.8" height="224.10000000000002"/></clipPath>
<g clip-path="url(#c279)" fill="none" stroke-linejoin="round">
<path d="M92.6,340.6 L92.7,339.8 L92.9,338.7 L93.0,337.4 L93.2,336.0 L93.4,334.5 L93.6,332.9 L93.8,331.2 L94.1,329.5 L94.3,327.8 L94.5,326.2 L94.8,324.6 L95.0,323.1 L95.2,321.6 L95.5,320.1 L95.7,318.6 L96.0,317.0 L96.3,315.4 L96.6,313.9 L96.8,312.4 L97.1,311.0 L97.3,309.6 L97.6,308.4 L97.8,307.3 L98.0,306.3 L98.2,305.5 L98.3,304.8 L98.5,304.2 L98.6,303.7 L98.7,303.3 L98.8,303.0 L98.9,302.7 L99.0,302.4 L99.1,302.2 L99.2,302.0 L99.3,301.8 L99.4,301.5 L99.5,301.2 L99.6,301.0 L99.7,300.8 L99.9,300.6 L100.0,300.4 L100.1,300.3 L100.2,300.2 L100.3,300.0 L100.4,299.9 L100.5,299.8 L100.7,299.7 L100.8,299.6 L100.9,299.5 L101.1,299.4 L101.2,299.3 L101.3,299.3 L101.4,299.2 L101.6,299.2 L101.7,299.1 L101.9,299.1 L102.0,299.0 L102.2,299.0 L102.3,298.9 L102.5,298.9 L102.7,298.9 L102.8,298.8 L102.9,298.8 L103.0,298.8 L103.1,298.8 L103.2,298.8 L103.4,298.7 L103.6,298.7 L103.8,298.7 L104.1,298.7 L104.5,298.6 L105.0,298.6 L105.6,298.6 L106.2,298.5 L107.0,298.4 L107.8,298.4 L108.6,298.3 L109.5,298.3 L110.5,298.2 L111.4,298.1 L112.3,298.1 L113.2,298.0 L114.1,298.0 L115.0,297.9 L115.8,297.9 L116.6,297.8 L117.3,297.8 L118.0,297.7 L118.7,297.7 L119.4,297.6 L120.1,297.6 L120.9,297.6 L121.8,297.5 L122.8,297.5 L123.8,297.4 L125.0,297.4 L126.3,297.4 L127.8,297.3 L129.3,297.3 L130.9,297.3 L132.6,297.2 L134.4,297.2 L136.2,297.1 L138.0,297.1 L139.8,297.1 L141.6,297.1 L143.3,297.0 L145.0,297.0 L146.5,297.0 L147.6,297.0 L148.5,296.9 L149.3,296.9 L150.0,296.9 L150.9,296.9 L152.1,296.9 L153.5,296.9 L155.4,296.8 L157.9,296.8 L161.1,296.8 L165.0,296.8 L169.8,296.8 L175.3,296.8 L181.5,296.8 L188.3,296.8 L195.5,296.8 L203.0,296.7 L210.8,296.7 L218.7,296.7 L226.7,296.7 L234.7,296.7 L242.5,296.7 L250.0,296.7 L257.7,296.7 L266.0,296.7 L274.7,296.7 L283.6,296.7 L292.5,296.7 L301.3,296.6 L309.8,296.6 L317.9,296.6 L325.3,296.6 L331.9,296.6 L337.5,296.6 L342.0,296.6" stroke="#db5114" stroke-width="3.5"/>
<path d="M105.7,355.0 L105.7,356.2 L105.7,357.7 L105.7,359.4 L105.7,361.4 L105.7,363.5 L105.6,365.8 L105.6,368.1 L105.6,370.4 L105.6,372.7 L105.7,374.8 L105.7,376.8 L105.7,378.6 L105.7,380.2 L105.8,381.8 L105.8,383.3 L105.9,384.8 L106.0,386.3 L106.0,387.6 L106.1,389.0 L106.2,390.3 L106.3,391.5 L106.3,392.7 L106.4,393.9 L106.5,395.0 L106.6,396.1 L106.7,397.1 L106.7,398.0 L106.8,398.9 L106.9,399.7 L107.0,400.5 L107.1,401.3 L107.2,402.1 L107.3,402.9 L107.4,403.7 L107.5,404.5 L107.7,405.3 L107.9,406.2 L108.0,407.0 L108.2,407.9 L108.4,408.8 L108.6,409.7 L108.9,410.6 L109.1,411.4 L109.3,412.3 L109.6,413.2 L109.8,414.0 L110.1,414.8 L110.3,415.6 L110.6,416.4 L110.8,417.1 L111.1,417.9 L111.3,418.6 L111.6,419.4 L111.9,420.1 L112.2,420.8 L112.5,421.5 L112.8,422.1 L113.1,422.8 L113.4,423.5 L113.7,424.1 L114.0,424.7 L114.4,425.4 L114.7,426.0 L115.1,426.6 L115.4,427.2 L115.8,427.8 L116.2,428.4 L116.5,429.0 L116.9,429.5 L117.3,430.0 L117.6,430.5 L118.0,431.0 L118.4,431.5 L118.7,431.9 L119.0,432.3 L119.3,432.6 L119.7,433.0 L120.0,433.3 L120.3,433.7 L120.7,434.0 L121.0,434.3 L121.4,434.6 L121.9,435.0 L122.3,435.3 L122.8,435.6 L123.3,436.0 L123.8,436.3 L124.3,436.6 L124.9,437.0 L125.4,437.3 L126.0,437.6 L126.6,437.9 L127.2,438.3 L127.8,438.6 L128.5,438.9 L129.1,439.2 L129.7,439.5 L130.4,439.8 L131.1,440.1 L131.8,440.4 L132.5,440.7 L133.2,441.0 L133.9,441.3 L134.6,441.6 L135.4,441.8 L136.1,442.1 L136.9,442.4 L137.7,442.7 L138.5,443.0 L139.3,443.3 L140.1,443.6 L140.9,443.8 L141.8,444.1 L142.6,444.4 L143.5,444.7 L144.4,445.0 L145.3,445.2 L146.2,445.5 L147.1,445.8 L148.0,446.1 L148.9,446.4 L149.9,446.7 L150.9,447.0 L151.8,447.3 L152.8,447.6 L153.8,447.9 L154.9,448.2 L155.9,448.6 L156.9,448.9 L157.9,449.1 L159.0,449.4 L160.0,449.7 L161.0,450.0 L162.1,450.2 L163.1,450.5 L164.1,450.7 L165.2,450.9 L166.2,451.2 L167.3,451.4 L168.4,451.6 L169.5,451.8 L170.6,452.1 L171.7,452.3 L172.9,452.5 L174.1,452.7 L175.4,452.9 L176.6,453.1 L177.9,453.4 L179.2,453.6 L180.6,453.8 L181.9,454.0 L183.3,454.2 L184.6,454.4 L186.0,454.6 L187.3,454.7 L188.6,454.9 L189.9,455.1 L191.3,455.2 L192.6,455.4 L194.0,455.5 L195.3,455.6 L196.7,455.8 L198.0,455.9 L199.3,456.0 L200.6,456.2 L201.9,456.3 L203.1,456.4 L204.3,456.5 L205.3,456.6 L206.2,456.7 L206.9,456.8 L207.6,456.8 L208.2,456.9 L208.9,457.0 L209.6,457.1 L210.5,457.1 L211.5,457.2 L212.8,457.3 L214.4,457.5 L216.3,457.6 L218.6,457.8 L221.2,457.9 L224.1,458.1 L227.2,458.3 L230.5,458.5 L234.0,458.8 L237.5,459.0 L241.1,459.2 L244.7,459.5 L248.2,459.7 L251.7,460.0 L255.0,460.2 L258.2,460.4 L261.3,460.7 L264.4,460.9 L267.5,461.2 L270.6,461.5 L273.7,461.7 L276.8,462.0 L280.0,462.3 L283.3,462.5 L286.6,462.8 L290.0,463.1 L293.6,463.4 L297.4,463.7 L301.7,464.1 L306.1,464.4 L310.8,464.8 L315.5,465.2 L320.2,465.6 L324.8,466.0 L329.1,466.3 L333.1,466.7 L336.6,467.0 L339.6,467.2 L342.0,467.4" stroke="#eead1d" stroke-width="3.5"/>
</g>
<path d="M92.5,279.0 V503.1" stroke="#000" stroke-width="2.1" stroke-dasharray="6 5.03" stroke-dashoffset="0.95"/>
<path d="M216,296.6 V458" stroke="#000" stroke-width="2.1" stroke-dasharray="6 5.03" stroke-dashoffset="0"/>
<rect x="43.0" y="279.0" width="298.1" height="224.10000000000002" fill="none" stroke="#202020" stroke-width="1.7"/>
<path d="M43.0,503.1 v-3.8 M43.0,279.0 v3.8" stroke="#202020" stroke-width="1.4"/>
<path d="M92.68333333333334,503.1 v-3.8 M92.68333333333334,279.0 v3.8" stroke="#202020" stroke-width="1.4"/>
<path d="M142.36666666666667,503.1 v-3.8 M142.36666666666667,279.0 v3.8" stroke="#202020" stroke-width="1.4"/>
<path d="M192.05,503.1 v-3.8 M192.05,279.0 v3.8" stroke="#202020" stroke-width="1.4"/>
<path d="M241.73333333333335,503.1 v-3.8 M241.73333333333335,279.0 v3.8" stroke="#202020" stroke-width="1.4"/>
<path d="M291.41666666666663,503.1 v-3.8 M291.41666666666663,279.0 v3.8" stroke="#202020" stroke-width="1.4"/>
<path d="M341.1,503.1 v-3.8 M341.1,279.0 v3.8" stroke="#202020" stroke-width="1.4"/>
<path d="M43.0,503.1 h3.8 M341.1,503.1 h-3.8" stroke="#202020" stroke-width="1.4"/>
<path d="M43.0,447.07500000000005 h3.8 M341.1,447.07500000000005 h-3.8" stroke="#202020" stroke-width="1.4"/>
<path d="M43.0,391.05 h3.8 M341.1,391.05 h-3.8" stroke="#202020" stroke-width="1.4"/>
<path d="M43.0,335.025 h3.8 M341.1,335.025 h-3.8" stroke="#202020" stroke-width="1.4"/>
<path d="M43.0,279.0 h3.8 M341.1,279.0 h-3.8" stroke="#202020" stroke-width="1.4"/>
<text x="42.4" y="522.5" text-anchor="middle" class="tk">-0.02</text>
<text x="92.08333333333334" y="522.5" text-anchor="middle" class="tk">0</text>
<text x="141.76666666666668" y="522.5" text-anchor="middle" class="tk">0.02</text>
<text x="191.45000000000002" y="522.5" text-anchor="middle" class="tk">0.04</text>
<text x="241.13333333333335" y="522.5" text-anchor="middle" class="tk">0.06</text>
<text x="290.8166666666666" y="522.5" text-anchor="middle" class="tk">0.08</text>
<text x="340.5" y="522.5" text-anchor="middle" class="tk">0.1</text>
<text x="37.6" y="508.3" text-anchor="end" class="tk">0</text>
<text x="37.6" y="452.27500000000003" text-anchor="end" class="tk">1</text>
<text x="37.6" y="396.25" text-anchor="end" class="tk">2</text>
<text x="37.6" y="340.22499999999997" text-anchor="end" class="tk">3</text>
<text x="37.6" y="284.2" text-anchor="end" class="tk">4</text>
<text x="191.3" y="542.3" text-anchor="middle" class="lb">Capacity / mAh</text>
<text transform="translate(22.9,391.05) rotate(-90)" text-anchor="middle" class="lb">Voltage / V</text>
<text transform="translate(248,311.6) scale(0.911,1)" class="bd">SC532 1<tspan dy="-4.5" style="font-size:8.2px">st</tspan><tspan dy="4.5"> cha.</tspan></text>
<text transform="translate(243,453.9) scale(0.934,1)" class="bd">Graphite 1<tspan dy="-4.5" style="font-size:8.2px">st</tspan><tspan dy="4.5"> dis.</tspan></text>
<text transform="translate(204.3,374.3) rotate(-90)" text-anchor="middle" class="bd" style="font-size:11.8px">2.849 V</text>
<text transform="translate(49.87,484.40000000000003) scale(0.96,1.145)" class="cal" style="font-size:23.5px">(</text><text transform="translate(59.25,483.6) scale(0.99,1.15)" class="cal" style="font-size:23.5px">b</text><text transform="translate(74.90,484.40000000000003) scale(0.96,1.145)" class="cal" style="font-size:23.5px">)</text>
<rect x="92.2" y="459.29999999999995" width="125" height="26.7" rx="2.5" fill="#000" opacity="0.05"/>
<rect x="91.8" y="458.4" width="125" height="26.7" rx="2.5" fill="#fdfdfd" stroke="#d0d0d0" stroke-width="1"/>
<text x="96.3" y="476.65" style="font-size:13.85px" fill="#3c3c3c">V vs. Li/Li+ <tspan dx="-0.1" font-weight="bold" fill="#1a8ef8">0.8174</tspan></text>
<clipPath id="tc279"><rect x="91.8" y="458.4" width="125" height="26.7"/></clipPath>
<path clip-path="url(#tc279)" d="M92.5,279.0 V503.1" stroke="#000" stroke-opacity="0.3" stroke-width="2.1" stroke-dasharray="6 5.03" stroke-dashoffset="0.95"/>
<circle cx="216" cy="458" r="3.2" fill="#000"/>
<clipPath id="c549"><rect x="43.0" y="549.2" width="298.8" height="224.29999999999995"/></clipPath>
<g clip-path="url(#c549)" fill="none" stroke-linejoin="round">
<path d="M92.5,589.7 L92.5,589.2 L92.5,588.6 L92.6,587.8 L92.6,587.0 L92.6,586.1 L92.6,585.1 L92.6,584.1 L92.7,583.1 L92.7,582.1 L92.8,581.1 L92.8,580.2 L92.9,579.4 L93.0,578.6 L93.1,577.8 L93.2,577.0 L93.3,576.2 L93.4,575.4 L93.5,574.7 L93.6,573.9 L93.8,573.2 L93.9,572.5 L94.0,571.9 L94.1,571.3 L94.2,570.8 L94.3,570.3 L94.4,569.9 L94.4,569.6 L94.5,569.2 L94.6,568.9 L94.7,568.7 L94.7,568.5 L94.8,568.3 L94.9,568.1 L95.0,567.9 L95.1,567.8 L95.2,567.6 L95.3,567.5 L95.4,567.4 L95.5,567.3 L95.6,567.2 L95.7,567.2 L95.8,567.2 L95.9,567.2 L96.1,567.2 L96.3,567.2 L96.5,567.2 L96.8,567.2 L97.2,567.2 L97.6,567.2 L98.0,567.2 L98.3,567.2 L98.7,567.1 L99.2,567.1 L99.7,567.1 L100.2,567.1 L100.9,567.1 L101.7,567.1 L102.6,567.1 L103.7,567.1 L105.0,567.1 L106.4,567.1 L107.9,567.1 L109.5,567.1 L111.1,567.1 L112.9,567.0 L114.9,567.0 L116.9,567.0 L119.2,567.0 L121.6,567.0 L124.2,567.0 L127.0,566.9 L130.0,566.9 L133.3,566.9 L136.9,566.8 L140.8,566.8 L144.9,566.8 L149.2,566.7 L153.6,566.7 L158.1,566.6 L162.6,566.6 L167.1,566.5 L171.6,566.5 L175.9,566.4 L180.0,566.4 L183.8,566.4 L187.2,566.3 L190.4,566.3 L193.4,566.2 L196.4,566.2 L199.4,566.2 L202.7,566.1 L206.4,566.1 L210.5,566.1 L215.3,566.0 L220.7,566.0 L227.0,566.0 L234.6,566.0 L243.6,566.0 L253.7,566.0 L264.6,566.0 L275.9,566.0 L287.4,566.0 L298.8,566.0 L309.7,566.0 L319.7,566.0 L328.7,566.0 L336.2,566.0 L342.0,566.0" stroke="#db5114" stroke-width="3.5"/>
<path d="M92.6,611.2 L92.6,612.7 L92.6,614.6 L92.6,616.8 L92.6,619.4 L92.5,622.1 L92.5,625.0 L92.5,627.9 L92.5,630.7 L92.5,633.4 L92.5,636.0 L92.6,638.2 L92.6,640.0 L92.7,641.5 L92.7,642.7 L92.8,643.7 L92.9,644.6 L93.0,645.3 L93.0,645.9 L93.2,646.5 L93.3,647.1 L93.4,647.7 L93.5,648.3 L93.6,649.1 L93.7,650.0 L93.8,651.0 L93.9,652.1 L94.0,653.2 L94.2,654.4 L94.3,655.6 L94.4,656.8 L94.6,658.0 L94.7,659.2 L94.8,660.4 L95.0,661.5 L95.1,662.6 L95.3,663.7 L95.5,664.7 L95.6,665.8 L95.8,666.8 L96.0,667.8 L96.2,668.8 L96.3,669.8 L96.5,670.7 L96.7,671.6 L96.9,672.5 L97.1,673.4 L97.4,674.3 L97.6,675.1 L97.8,675.9 L98.1,676.6 L98.4,677.3 L98.7,678.0 L98.9,678.6 L99.2,679.2 L99.5,679.9 L99.8,680.5 L100.1,681.1 L100.4,681.7 L100.7,682.4 L101.0,683.1 L101.3,683.8 L101.6,684.6 L101.8,685.3 L102.1,686.1 L102.4,686.9 L102.6,687.7 L102.9,688.5 L103.2,689.3 L103.5,690.1 L103.8,690.8 L104.1,691.6 L104.4,692.3 L104.7,693.0 L105.1,693.7 L105.4,694.4 L105.8,695.1 L106.2,695.8 L106.6,696.5 L106.9,697.2 L107.3,697.8 L107.7,698.5 L108.2,699.1 L108.6,699.7 L109.0,700.3 L109.4,700.9 L109.9,701.4 L110.3,701.9 L110.8,702.4 L111.2,702.9 L111.7,703.4 L112.2,703.9 L112.7,704.3 L113.2,704.8 L113.7,705.2 L114.2,705.6 L114.7,706.0 L115.2,706.4 L115.8,706.8 L116.3,707.1 L116.8,707.5 L117.4,707.8 L117.9,708.1 L118.5,708.4 L119.1,708.7 L119.7,709.0 L120.3,709.3 L120.9,709.6 L121.6,709.9 L122.3,710.2 L123.0,710.4 L123.7,710.7 L124.4,711.0 L125.1,711.2 L125.9,711.4 L126.6,711.7 L127.4,711.9 L128.2,712.1 L129.0,712.4 L129.9,712.6 L130.7,712.9 L131.6,713.2 L132.5,713.4 L133.4,713.7 L134.3,714.0 L135.3,714.3 L136.2,714.6 L137.2,714.9 L138.2,715.2 L139.2,715.5 L140.2,715.8 L141.1,716.0 L142.1,716.3 L143.1,716.6 L144.0,716.8 L145.0,717.1 L145.9,717.3 L146.9,717.6 L147.8,717.8 L148.8,718.1 L149.8,718.3 L150.7,718.6 L151.7,718.8 L152.6,719.1 L153.6,719.3 L154.6,719.5 L155.5,719.8 L156.4,720.0 L157.4,720.2 L158.3,720.4 L159.3,720.7 L160.2,720.9 L161.2,721.1 L162.1,721.3 L163.1,721.6 L164.0,721.8 L165.0,722.0 L165.9,722.2 L166.7,722.4 L167.5,722.6 L168.3,722.9 L169.0,723.1 L169.8,723.3 L170.6,723.5 L171.6,723.7 L172.6,723.9 L173.8,724.2 L175.2,724.4 L176.8,724.7 L178.6,725.0 L180.8,725.3 L183.1,725.6 L185.5,726.0 L188.1,726.4 L190.8,726.7 L193.5,727.1 L196.2,727.4 L198.9,727.8 L201.4,728.1 L203.8,728.4 L206.0,728.6 L208.0,728.8 L209.9,729.0 L211.6,729.2 L213.2,729.3 L214.8,729.4 L216.4,729.5 L217.9,729.6 L219.6,729.7 L221.3,729.8 L223.1,729.9 L225.1,730.1 L227.2,730.2 L229.5,730.3 L231.9,730.5 L234.4,730.6 L237.0,730.8 L239.7,730.9 L242.4,731.0 L245.2,731.2 L248.1,731.3 L251.0,731.5 L254.0,731.7 L257.0,731.8 L260.0,732.0 L263.1,732.2 L266.2,732.4 L269.4,732.6 L272.7,732.8 L276.1,733.0 L279.4,733.2 L282.8,733.4 L286.3,733.6 L289.7,733.8 L293.1,734.1 L296.6,734.3 L300.0,734.5 L303.6,734.7 L307.4,735.0 L311.3,735.2 L315.4,735.5 L319.5,735.7 L323.5,736.0 L327.4,736.3 L331.0,736.5 L334.4,736.7 L337.4,736.9 L340.0,737.1 L342.0,737.2" stroke="#eead1d" stroke-width="3.5"/>
</g>
<path d="M92.5,549.2 V773.5" stroke="#000" stroke-width="2.1" stroke-dasharray="6 5.03" stroke-dashoffset="0.95"/>
<path d="M227.2,566.0 V730.0" stroke="#000" stroke-width="2.1" stroke-dasharray="6 5.03" stroke-dashoffset="0"/>
<rect x="43.0" y="549.2" width="298.1" height="224.29999999999995" fill="none" stroke="#202020" stroke-width="1.7"/>
<path d="M43.0,773.5 v-3.8 M43.0,549.2 v3.8" stroke="#202020" stroke-width="1.4"/>
<path d="M92.68333333333334,773.5 v-3.8 M92.68333333333334,549.2 v3.8" stroke="#202020" stroke-width="1.4"/>
<path d="M142.36666666666667,773.5 v-3.8 M142.36666666666667,549.2 v3.8" stroke="#202020" stroke-width="1.4"/>
<path d="M192.05,773.5 v-3.8 M192.05,549.2 v3.8" stroke="#202020" stroke-width="1.4"/>
<path d="M241.73333333333335,773.5 v-3.8 M241.73333333333335,549.2 v3.8" stroke="#202020" stroke-width="1.4"/>
<path d="M291.41666666666663,773.5 v-3.8 M291.41666666666663,549.2 v3.8" stroke="#202020" stroke-width="1.4"/>
<path d="M341.1,773.5 v-3.8 M341.1,549.2 v3.8" stroke="#202020" stroke-width="1.4"/>
<path d="M43.0,773.5 h3.8 M341.1,773.5 h-3.8" stroke="#202020" stroke-width="1.4"/>
<path d="M43.0,717.425 h3.8 M341.1,717.425 h-3.8" stroke="#202020" stroke-width="1.4"/>
<path d="M43.0,661.35 h3.8 M341.1,661.35 h-3.8" stroke="#202020" stroke-width="1.4"/>
<path d="M43.0,605.2750000000001 h3.8 M341.1,605.2750000000001 h-3.8" stroke="#202020" stroke-width="1.4"/>
<path d="M43.0,549.2 h3.8 M341.1,549.2 h-3.8" stroke="#202020" stroke-width="1.4"/>
<text x="42.4" y="792.9" text-anchor="middle" class="tk">-0.02</text>
<text x="92.08333333333334" y="792.9" text-anchor="middle" class="tk">0</text>
<text x="141.76666666666668" y="792.9" text-anchor="middle" class="tk">0.02</text>
<text x="191.45000000000002" y="792.9" text-anchor="middle" class="tk">0.04</text>
<text x="241.13333333333335" y="792.9" text-anchor="middle" class="tk">0.06</text>
<text x="290.8166666666666" y="792.9" text-anchor="middle" class="tk">0.08</text>
<text x="340.5" y="792.9" text-anchor="middle" class="tk">0.1</text>
<text x="37.6" y="778.7" text-anchor="end" class="tk">0</text>
<text x="37.6" y="722.625" text-anchor="end" class="tk">1</text>
<text x="37.6" y="666.5500000000001" text-anchor="end" class="tk">2</text>
<text x="37.6" y="610.4750000000001" text-anchor="end" class="tk">3</text>
<text x="37.6" y="554.4000000000001" text-anchor="end" class="tk">4</text>
<text x="191.3" y="812.8" text-anchor="middle" class="lb">Capacity / mAh</text>
<text transform="translate(22.9,661.35) rotate(-90)" text-anchor="middle" class="lb">Voltage / V</text>
<text transform="translate(248.5,580.6) scale(0.911,1)" class="bd">SC532 1<tspan dy="-4.5" style="font-size:8.2px">st</tspan><tspan dy="4.5"> cha.</tspan></text>
<text transform="translate(243.4,725.9) scale(0.934,1)" class="bd">Graphite 1<tspan dy="-4.5" style="font-size:8.2px">st</tspan><tspan dy="4.5"> dis.</tspan></text>
<text transform="translate(216.5,647.3) rotate(-90)" text-anchor="middle" class="bd" style="font-size:11.8px">2.928 V</text>
<text transform="translate(49.57,753.1999999999999) scale(0.96,1.145)" class="cal" style="font-size:23.5px">(</text><text transform="translate(58.40,752.4) scale(0.915,1.0)" class="cal" style="font-size:23.5px">c</text><text transform="translate(71.30,753.1999999999999) scale(0.96,1.145)" class="cal" style="font-size:23.5px">)</text>
<rect x="103.4" y="733.1999999999999" width="124.2" height="26.6" rx="2.5" fill="#000" opacity="0.05"/>
<rect x="103.0" y="732.3" width="124.2" height="26.6" rx="2.5" fill="#fdfdfd" stroke="#d0d0d0" stroke-width="1"/>
<text x="107.1" y="750.4999999999999" style="font-size:13.85px" fill="#3c3c3c">V vs. Li/Li+ <tspan dx="-0.1" font-weight="bold" fill="#1a8ef8">0.7584</tspan></text>
<clipPath id="tc549"><rect x="103.0" y="732.3" width="124.2" height="26.6"/></clipPath>
<path clip-path="url(#tc549)" d="M92.5,549.2 V773.5" stroke="#000" stroke-opacity="0.3" stroke-width="2.1" stroke-dasharray="6 5.03" stroke-dashoffset="0.95"/>
<circle cx="227.2" cy="730.0" r="3.2" fill="#000"/>
</svg>
</body></html>
